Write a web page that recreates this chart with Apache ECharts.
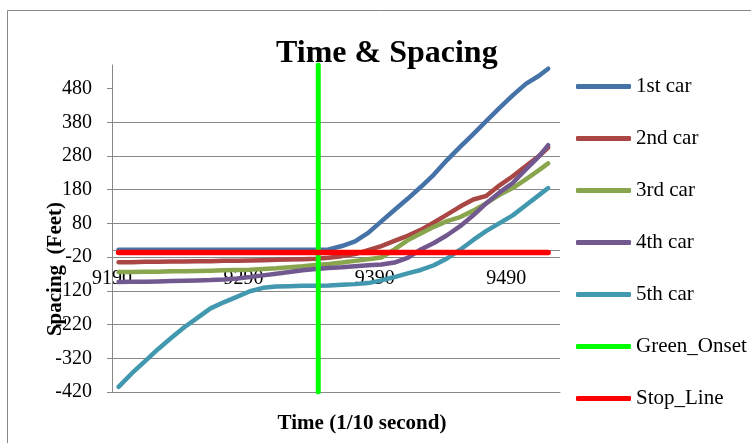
<!DOCTYPE html>
<html>
<head>
<meta charset="utf-8">
<script src="https://cdn.jsdelivr.net/npm/echarts@6/dist/echarts.min.js"></script>
<style>
  html, body { margin: 0; padding: 0; background: #fff; }
  #chart { width: 751px; height: 443px; }
</style>
</head>
<body>
<div id="chart"></div>
<script>
// ---- Data ----
const seriesNames = ['1st car', '2nd car', '3rd car', '4th car', '5th car', 'Green_Onset', 'Stop_Line'];
const times = [9195, 9205, 9215, 9225, 9235, 9245, 9255, 9265, 9275, 9285, 9295, 9305, 9315, 9325, 9335, 9345, 9355,
               9365, 9375, 9385, 9395, 9405, 9415, 9425, 9435, 9445, 9455, 9465, 9475, 9485, 9495, 9505, 9515, 9522];
const car1 = [2, 2, 2, 2, 2, 2, 2, 2, 2, 2, 2, 2, 2, 2, 2, 2, 3,
              13, 27, 52, 86, 120, 153, 188, 225, 268, 307, 345, 384, 423, 460, 494, 518, 539];
const car2 = [-35, -35, -34, -34, -33, -33, -32, -32, -31, -31, -30, -29, -28, -27, -26, -25, -22,
              -17, -11, 1, 13, 28, 43, 61, 83, 106, 130, 151, 162, 193, 220, 250, 280, 305];
const car3 = [-64, -64, -63, -63, -62, -62, -61, -60, -59, -58, -57, -55, -53, -50, -47, -43, -40,
              -36, -31, -26, -21, 3, 30, 50, 70, 87, 99, 118, 140, 165, 185, 211, 238, 258];
const car4 = [-94, -93, -93, -92, -91, -90, -89, -88, -86, -83, -79, -74, -69, -64, -59, -55, -52,
              -50, -47, -44, -42, -36, -22, 3, 22, 45, 72, 104, 140, 172, 200, 240, 279, 312];
const car5 = [-405, -365, -329, -293, -260, -228, -200, -172, -154, -138, -121, -111, -107, -106, -105, -105, -104,
              -102, -100, -97, -89, -79, -68, -58, -44, -24, 2, 31, 58, 81, 104, 134, 164, 185];
const greenOnsetTime = [9347, 9347];
const greenOnsetValue = [-420, 550];
const stopLineTime = [9195, 9522];
const stopLineValue = [-6, -6];
const xTicks = [9190, 9290, 9390, 9490];
const yTicks = [-420, -320, -220, -120, -20, 80, 180, 280, 380, 480];

const colors = ['#4572A7', '#AA4643', '#89A54E', '#71588F', '#4198AF', '#00FF00', '#FF0000'];
const FONT = 'Liberation Serif';

function pairs(xs, ys) { return xs.map((x, i) => [x, ys[i]]); }

const carValues = [car1, car2, car3, car4, car5];
const series = carValues.map((vals, i) => ({
  name: seriesNames[i],
  type: 'line',
  data: pairs(times, vals),
  symbol: 'none',
  showSymbol: false,
  lineStyle: { width: 4.5, color: colors[i], cap: 'round', join: 'round' },
  itemStyle: { color: colors[i] },
  z: 2 + i
}));
// horizontal (time) axis line crossing at value 0
series[0].markLine = {
  silent: true, symbol: 'none', z: 1,
  label: { show: false },
  lineStyle: { color: '#888', width: 1, type: 'solid' },
  data: [{ yAxis: 0 }]
};
series.push({
  name: seriesNames[5], type: 'line', data: pairs(greenOnsetTime, greenOnsetValue),
  symbol: 'none', showSymbol: false,
  lineStyle: { width: 5, color: colors[5], cap: 'round' }, itemStyle: { color: colors[5] }, z: 8
});
series.push({
  name: seriesNames[6], type: 'line', data: pairs(stopLineTime, stopLineValue),
  symbol: 'none', showSymbol: false,
  lineStyle: { width: 5.5, color: colors[6], cap: 'round' }, itemStyle: { color: colors[6] }, z: 9
});

const chart = echarts.init(document.getElementById('chart'), null, { renderer: 'canvas' });
chart.setOption({
  animation: false,
  backgroundColor: '#ffffff',
  color: colors,
  title: {
    text: 'Time & Spacing',
    left: 276,
    top: 38,
    padding: 0,
    textStyle: { fontFamily: FONT, fontSize: 32, fontWeight: 'bold', color: '#000' }
  },
  graphic: [{
    type: 'rect', silent: true,
    shape: { x: 7.5, y: 10.5, width: 800, height: 500 },
    style: { fill: 'none', stroke: '#888', lineWidth: 1 }
  }],
  legend: {
    data: seriesNames,
    orient: 'vertical',
    left: 576,
    top: 76,
    padding: 0,
    itemWidth: 55,
    itemHeight: 5,
    itemGap: 31,
    icon: 'roundRect',
    textStyle: { fontFamily: FONT, fontSize: 21, lineHeight: 20, color: '#000' }
  },
  grid: { left: 112, right: 191, top: 65, bottom: 51, containLabel: false, outerBoundsMode: 'none' },
  xAxis: {
    type: 'value',
    position: 'bottom',
    min: 9190, max: 9531, interval: 100,
    name: 'Time (1/10 second)',
    nameLocation: 'middle',
    nameGap: 21,
    nameMoveOverlap: false,
    nameTextStyle: { fontFamily: FONT, fontSize: 21, fontWeight: 'bold', color: '#000', padding: [0, 0, 0, 52] },
    axisLine: { show: true, onZero: false, lineStyle: { color: '#888', width: 1 } },
    axisTick: { show: false },
    axisLabel: { customValues: xTicks, hideOverlap: false, margin: -123,
                 formatter: (v) => String(v), fontFamily: FONT, fontSize: 20, color: '#000' },
    splitLine: { show: false }
  },
  yAxis: {
    type: 'value',
    min: -420, max: 550, interval: 100,
    name: 'Spacing  (Feet)',
    nameLocation: 'middle',
    nameGap: 46,
    nameMoveOverlap: false,
    nameTextStyle: { fontFamily: FONT, fontSize: 21, fontWeight: 'bold', color: '#000', padding: [0, 81, 0, 0] },
    axisLine: { show: true, onZero: false, lineStyle: { color: '#888', width: 1 } },
    axisTick: { show: true, length: 5, customValues: yTicks, lineStyle: { color: '#888' } },
    axisLabel: { customValues: yTicks, hideOverlap: false, margin: 20,
                 formatter: (v) => String(v), fontFamily: FONT, fontSize: 20, color: '#000' },
    splitLine: { show: true, showMaxLine: false, lineStyle: { color: '#888', width: 1 } }
  },
  series: series
});
</script>
</body>
</html>
